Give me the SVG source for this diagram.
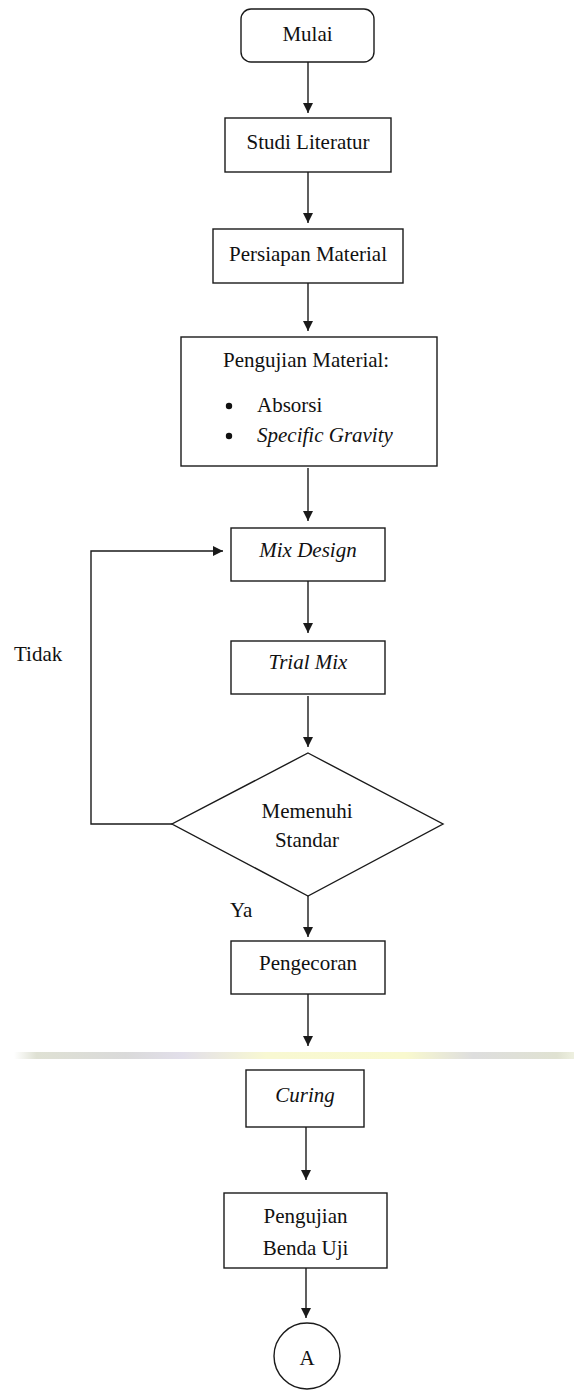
<svg xmlns="http://www.w3.org/2000/svg" width="574" height="1393" viewBox="0 0 574 1393" font-family="'Liberation Serif', 'DejaVu Serif', serif">
<style>
.box{fill:#fff;stroke:#1a1a1a;stroke-width:1.4}
.ln{fill:none;stroke:#1a1a1a;stroke-width:1.4}
text{font-family:'Liberation Serif','DejaVu Serif',serif;font-size:21px;fill:#111}
.c{text-anchor:middle}
.i{font-style:italic}
</style>
<defs>
<marker id="ah" markerUnits="userSpaceOnUse" markerWidth="11" markerHeight="11" refX="10" refY="5" orient="auto">
<path d="M0,0 L10,5 L0,10 Z" fill="#1a1a1a"/>
</marker>
<linearGradient id="band" x1="0" y1="0" x2="1" y2="0">
<stop offset="0" stop-color="#ffffff"/>
<stop offset="0.04" stop-color="#dfe1d4"/>
<stop offset="0.2" stop-color="#dadada"/>
<stop offset="0.3" stop-color="#e2dfea"/>
<stop offset="0.45" stop-color="#f8f8d2"/>
<stop offset="0.7" stop-color="#f9f9cf"/>
<stop offset="0.82" stop-color="#dedede"/>
<stop offset="0.97" stop-color="#e0e2d2"/>
<stop offset="1" stop-color="#eef0e0"/>
</linearGradient>
</defs>
<rect x="0" y="0" width="574" height="1393" fill="#fff"/>
<rect x="14" y="1052" width="560" height="7" fill="url(#band)"/>

<g id="connectors">
<line class="ln" x1="308" y1="62" x2="308" y2="113" marker-end="url(#ah)"/>
<line class="ln" x1="308" y1="172" x2="308" y2="223" marker-end="url(#ah)"/>
<line class="ln" x1="308" y1="283" x2="308" y2="331" marker-end="url(#ah)"/>
<line class="ln" x1="308" y1="468" x2="308" y2="521" marker-end="url(#ah)"/>
<line class="ln" x1="308" y1="581" x2="308" y2="633" marker-end="url(#ah)"/>
<line class="ln" x1="308" y1="696" x2="308" y2="747" marker-end="url(#ah)"/>
<line class="ln" x1="308" y1="896" x2="308" y2="937" marker-end="url(#ah)"/>
<line class="ln" x1="308" y1="994" x2="308" y2="1046" marker-end="url(#ah)"/>
<line class="ln" x1="306" y1="1127" x2="306" y2="1180" marker-end="url(#ah)"/>
<line class="ln" x1="306" y1="1268" x2="306" y2="1318" marker-end="url(#ah)"/>
<polyline class="ln" points="172,824 91,824 91,551 223,551" marker-end="url(#ah)"/>
<text x="14" y="661">Tidak</text>
<text x="230" y="917">Ya</text>
</g>

<g id="mulai">
<rect class="box" x="241" y="9" width="133" height="53" rx="10"/>
<text class="c" x="307.5" y="41">Mulai</text>
</g>
<g id="studi-literatur">
<rect class="box" x="225" y="118" width="166" height="54"/>
<text class="c" x="308" y="149">Studi Literatur</text>
</g>
<g id="persiapan-material">
<rect class="box" x="213" y="229" width="190" height="54"/>
<text class="c" x="308" y="261">Persiapan Material</text>
</g>
<g id="pengujian-material">
<rect class="box" x="181" y="337" width="256" height="129"/>
<text x="223" y="367">Pengujian Material:</text>
<circle cx="229" cy="406" r="3.2" fill="#111"/>
<circle cx="229" cy="436" r="3.2" fill="#111"/>
<text x="257" y="412">Absorsi</text>
<text class="i" x="257" y="442">Specific Gravity</text>
</g>
<g id="mix-design">
<rect class="box" x="231" y="528" width="154" height="53"/>
<text class="c i" x="308" y="557">Mix Design</text>
</g>
<g id="trial-mix">
<rect class="box" x="231" y="641" width="154" height="53"/>
<text class="c i" x="308" y="669">Trial Mix</text>
</g>
<g id="memenuhi-standar">
<polygon class="box" points="308,753 443,824 308,896 172,824"/>
<text class="c" x="307" y="818">Memenuhi</text>
<text class="c" x="307" y="847">Standar</text>
</g>
<g id="pengecoran">
<rect class="box" x="231" y="941" width="154" height="53"/>
<text class="c" x="308" y="970">Pengecoran</text>
</g>
<g id="curing">
<rect class="box" x="246" y="1070" width="118" height="57"/>
<text class="c i" x="305" y="1102">Curing</text>
</g>
<g id="pengujian-benda-uji">
<rect class="box" x="224" y="1193" width="163" height="75"/>
<text class="c" x="305.5" y="1223">Pengujian</text>
<text class="c" x="305.5" y="1255">Benda Uji</text>
</g>
<g id="a">
<circle class="box" cx="307" cy="1356" r="33"/>
<text class="c" x="307" y="1365">A</text>
</g>
</svg>
